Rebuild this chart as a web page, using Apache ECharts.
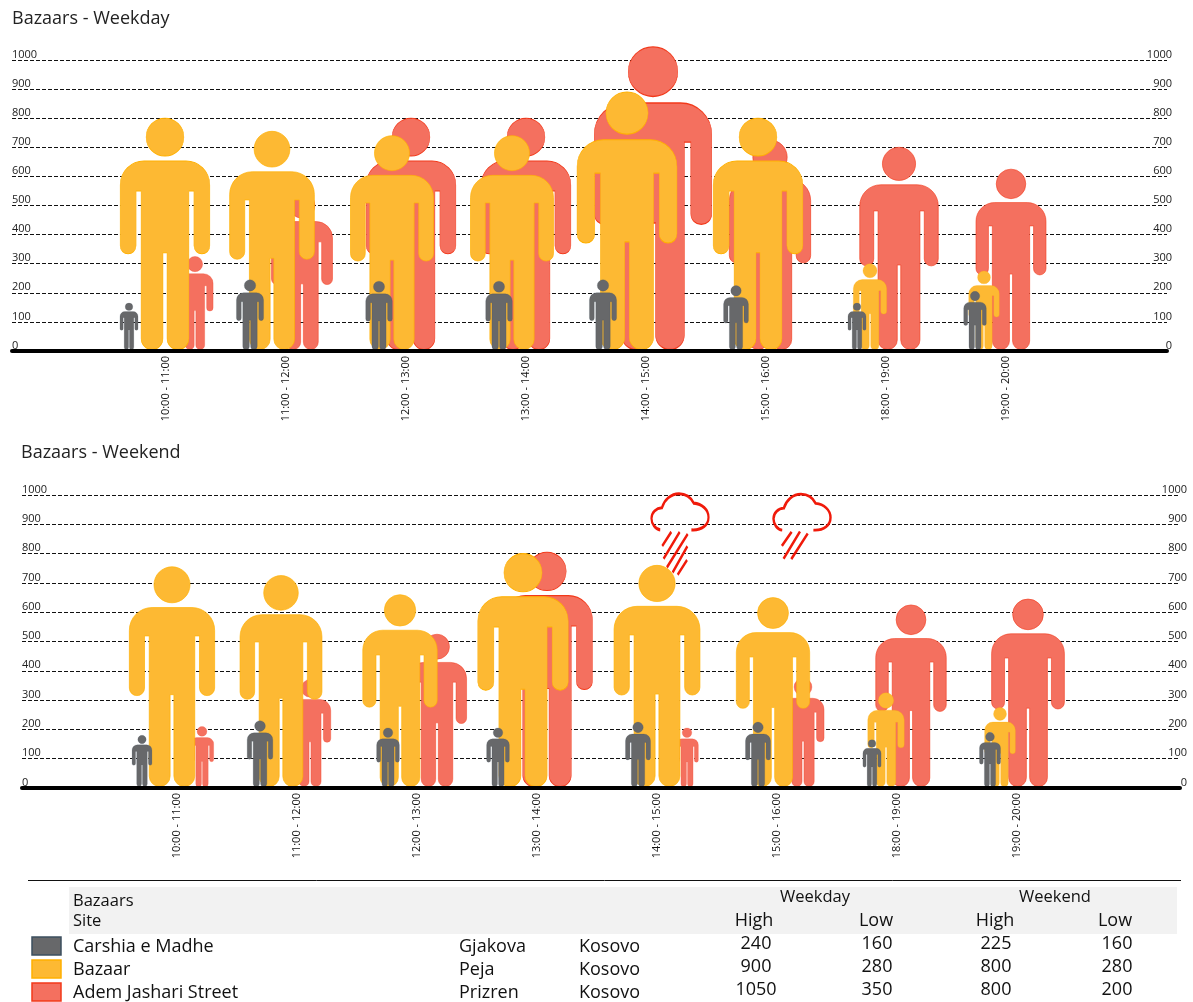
<!DOCTYPE html>
<html lang="en">

<head>
    <meta charset="UTF-8">
    <title>Bazaars</title>
    <style>
        html, body { margin: 0; padding: 0; background: #fff; }
        #chart { width: 1193px; height: 1002px; }
    </style>
</head>

<body>
    <div id="chart"></div>
</body>
<script src="https://cdn.jsdelivr.net/npm/echarts@6/dist/echarts.min.js"></script>
<script>
    // values
    var hours = ['10:00 - 11:00', '11:00 - 12:00', '12:00 - 13:00', '13:00 - 14:00', '14:00 - 15:00', '15:00 - 16:00', '18:00 - 19:00', '19:00 - 20:00'];

    var weekdayCarshia = [160, 240, 235, 235, 240, 220, 160, 200];
    var weekdayBazaar = [795, 750, 735, 735, 885, 795, 295, 270];
    var weekdayAdem = [320, 540, 795, 795, 1040, 720, 695, 620];

    var weekendCarshia = [175, 225, 200, 200, 220, 220, 160, 185];
    var weekendBazaar = [750, 720, 655, 795, 755, 645, 320, 270];
    var weekendAdem = [205, 365, 520, 800, 200, 370, 620, 640];

    var rainValues = [[4, 866], [5, 892]];

    var tableSites = ['Carshia e Madhe', 'Bazaar', 'Adem Jashari Street'];
    var tableCities = ['Gjakova', 'Peja', 'Prizren'];
    var tableCountry = ['Kosovo', 'Kosovo', 'Kosovo'];
    var tableWeekdayHigh = [240, 900, 1050];
    var tableWeekdayLow = [160, 280, 350];
    var tableWeekendHigh = [225, 800, 800];
    var tableWeekendLow = [160, 280, 200];

    // how far each figure is pushed sideways from its hour, px
    var nudgeWeekday = {
        carshia: [-37, -36, -27, -27, -43, -30, -29, -31],
        bazaar: [-1, -14, -14, -14, -19, -8, -16, -22],
        adem: [29, 16, 5, 0, 7, 4, 13, 5]
    };
    var nudgeWeekend = {
        carshia: [-35, -37, -29, -39, -19, -19, -25, -27],
        bazaar: [-5, -16, -17, -14, 0, -4, -11, -17],
        adem: [25, 13, 20, 10, 30, 26, 14, 11]
    };

    var FONT = '"Open Sans", sans-serif';
    var GREY = { color: '#67686a', borderColor: '#3d4f5f' };
    var YELLOW = { color: '#fdb933', borderColor: '#ffb000' };
    var RED = { color: '#f4705f', borderColor: '#f2391a' };

    var PERSON = 'path://M45 0A19 19 0 1 1 45 38A19 19 0 1 1 45 0Z' +
        'M24 43L66 43A24 24 0 0 1 90 67L90 128A8 8 0 0 1 74 128L74 73L69 73L69 221A11 11 0 0 1 47 221' +
        'L47 135L43 135L43 221A11 11 0 0 1 21 221L21 73L16 73L16 128A8 8 0 0 1 0 128L0 67A24 24 0 0 1 24 43Z';
    var CLOUD = 'M300 180C285 178 274 162 274 146C274 128 288 115 305 114C312 90 332 72 356 72' +
        'C376 72 392 84 400 100C425 102 444 120 444 142C444 165 425 182 393 180';
    var RAIN_BIG = 'path://' + CLOUD + 'M333 186L306 228M358 186L310 266M382 192L320 292M381 229L337 307M380 270L352 314';
    var RAIN_SMALL = 'path://' + CLOUD + 'M328 185L299 227M353 184L304 266M376 190L327 267';

    var grids = [];
    var xAxes = [];
    var yAxes = [];
    var series = [];

    function personItems(values, nudge, pxPerUnit) {
        return values.map(function (v, i) {
            return {
                value: v,
                symbolSize: [v * pxPerUnit * 0.388, '100%'],
                symbolOffset: [nudge[i], 0]
            };
        });
    }

    function personSeries(name, values, nudge, style, pxPerUnit, axisIndex) {
        series.push({
            name: name,
            type: 'pictorialBar',
            xAxisIndex: axisIndex,
            yAxisIndex: axisIndex,
            symbol: PERSON,
            symbolPosition: 'start',
            clip: false,
            silent: true,
            itemStyle: { color: style.color, borderColor: style.borderColor, borderWidth: 1.8 },
            data: personItems(values, nudge, pxPerUnit)
        });
    }

    function tickText(v) {
        return String(v);
    }

    // one backing grid for lines and scale labels, one narrower grid for the hours
    function addPanel(top, height, left, right, firstHourX, labelMargin) {
        var back = grids.length;
        grids.push({ left: left, right: right, top: top, height: height });
        xAxes.push({
            type: 'value', gridIndex: back, min: 0, max: 1, z: 5,
            axisLine: { show: true, onZero: false, lineStyle: { color: '#000', width: 4, cap: 'round' } },
            axisTick: { show: false }, axisLabel: { show: false }, splitLine: { show: false }
        });
        yAxes.push({
            type: 'value', gridIndex: back, position: 'left', min: 0, max: 1000, interval: 100,
            axisLine: { show: false }, axisTick: { show: false },
            axisLabel: { inside: true, margin: 0, verticalAlign: 'bottom', color: '#222', fontFamily: FONT, fontSize: 11, formatter: tickText },
            splitLine: { show: true, lineStyle: { color: '#111', width: 1, type: [4, 2] } }
        });
        grids.push({ left: left, right: right, top: top, height: height });
        xAxes.push({
            type: 'value', gridIndex: back + 1, min: 0, max: 1, show: false
        });
        yAxes.push({
            type: 'value', gridIndex: back + 1, position: 'right', min: 0, max: 1000, interval: 100,
            axisLine: { show: false }, axisTick: { show: false },
            axisLabel: { inside: true, margin: labelMargin, verticalAlign: 'bottom', color: '#222', fontFamily: FONT, fontSize: 11, formatter: tickText },
            splitLine: { show: false }
        });
        var marks = grids.length;
        grids.push({ left: firstHourX - 60, width: 960, top: top, height: height });
        xAxes.push({
            type: 'category', gridIndex: marks, data: hours,
            axisLine: { show: false }, axisTick: { show: false },
            axisLabel: { rotate: 90, margin: 5, interval: 0, color: '#111', fontFamily: FONT, fontSize: 11 }
        });
        yAxes.push({ type: 'value', gridIndex: marks, min: 0, max: 1000, show: false });
        return marks;
    }

    var panelWeek = addPanel(60, 291, 12, 26, 166, -5);
    var panelEnd = addPanel(495, 293, 22, 13, 177, -7);

    personSeries('Adem Jashari Street', weekdayAdem, nudgeWeekday.adem, RED, 0.291, panelWeek);
    personSeries('Bazaar', weekdayBazaar, nudgeWeekday.bazaar, YELLOW, 0.291, panelWeek);
    personSeries('Carshia e Madhe', weekdayCarshia, nudgeWeekday.carshia, GREY, 0.291, panelWeek);

    // rain goes first so the figures cover it
    series.push({
        type: 'scatter',
        xAxisIndex: panelEnd,
        yAxisIndex: panelEnd,
        silent: true,
        itemStyle: { color: 'none', borderColor: '#f01a0a', borderWidth: 2.6, opacity: 1 },
        data: [
            { value: rainValues[0], symbol: RAIN_BIG, symbolSize: [57, 81], symbolOffset: [23, 0] },
            { value: rainValues[1], symbol: RAIN_SMALL, symbolSize: [57, 65], symbolOffset: [25, 0] }
        ]
    });
    personSeries('Adem Jashari Street', weekendAdem, nudgeWeekend.adem, RED, 0.293, panelEnd);
    personSeries('Bazaar', weekendBazaar, nudgeWeekend.bazaar, YELLOW, 0.293, panelEnd);
    personSeries('Carshia e Madhe', weekendCarshia, nudgeWeekend.carshia, GREY, 0.293, panelEnd);

    // table under the charts
    function cell(text, x, y, align, size) {
        return {
            type: 'text', x: x, y: y,
            style: { text: String(text), fill: '#111', font: (size || 18) + 'px ' + FONT, textAlign: align || 'left', textVerticalAlign: 'middle' }
        };
    }

    var tableItems = [
        { type: 'line', shape: { x1: 28, y1: 880.5, x2: 1181, y2: 880.5 }, style: { stroke: '#111', lineWidth: 1 } },
        { type: 'rect', shape: { x: 69, y: 887, width: 1108, height: 47 }, style: { fill: '#f2f2f2' } },
        cell('Bazaars', 73, 901, 'left', 16.5),
        cell('Site', 73, 921, 'left', 16.5),
        cell('Weekday', 815, 897, 'center', 16.5),
        cell('Weekend', 1055, 897, 'center', 16.5),
        cell('High', 754, 921, 'center'),
        cell('Low', 876, 921, 'center'),
        cell('High', 995, 921, 'center'),
        cell('Low', 1115, 921, 'center')
    ];
    var swatches = [GREY, YELLOW, RED];
    tableSites.forEach(function (site, i) {
        var nameY = 947 + i * 23;
        var numY = 944 + i * 23;
        tableItems.push({
            type: 'rect',
            shape: { x: 32, y: 937 + i * 23, width: 29, height: 18 },
            style: { fill: swatches[i].color, stroke: swatches[i].borderColor, lineWidth: 1.5 }
        });
        tableItems.push(cell(site, 73, nameY));
        tableItems.push(cell(tableCities[i], 459, nameY));
        tableItems.push(cell(tableCountry[i], 579, nameY));
        tableItems.push(cell(tableWeekdayHigh[i], 756, numY, 'center'));
        tableItems.push(cell(tableWeekdayLow[i], 877, numY, 'center'));
        tableItems.push(cell(tableWeekendHigh[i], 996, numY, 'center'));
        tableItems.push(cell(tableWeekendLow[i], 1117, numY, 'center'));
    });

    var myChart = echarts.init(document.getElementById('chart'), null, { renderer: 'canvas' });
    myChart.setOption({
        animation: false,
        backgroundColor: '#fff',
        title: [
            { text: 'Bazaars - Weekday', left: 7, top: 5, textStyle: { color: '#222', fontFamily: FONT, fontWeight: 'normal', fontSize: 18 } },
            { text: 'Bazaars - Weekend', left: 16, top: 439, textStyle: { color: '#222', fontFamily: FONT, fontWeight: 'normal', fontSize: 18 } }
        ],
        grid: grids,
        xAxis: xAxes,
        yAxis: yAxes,
        series: series,
        graphic: { elements: tableItems }
    });
</script>

</html>
